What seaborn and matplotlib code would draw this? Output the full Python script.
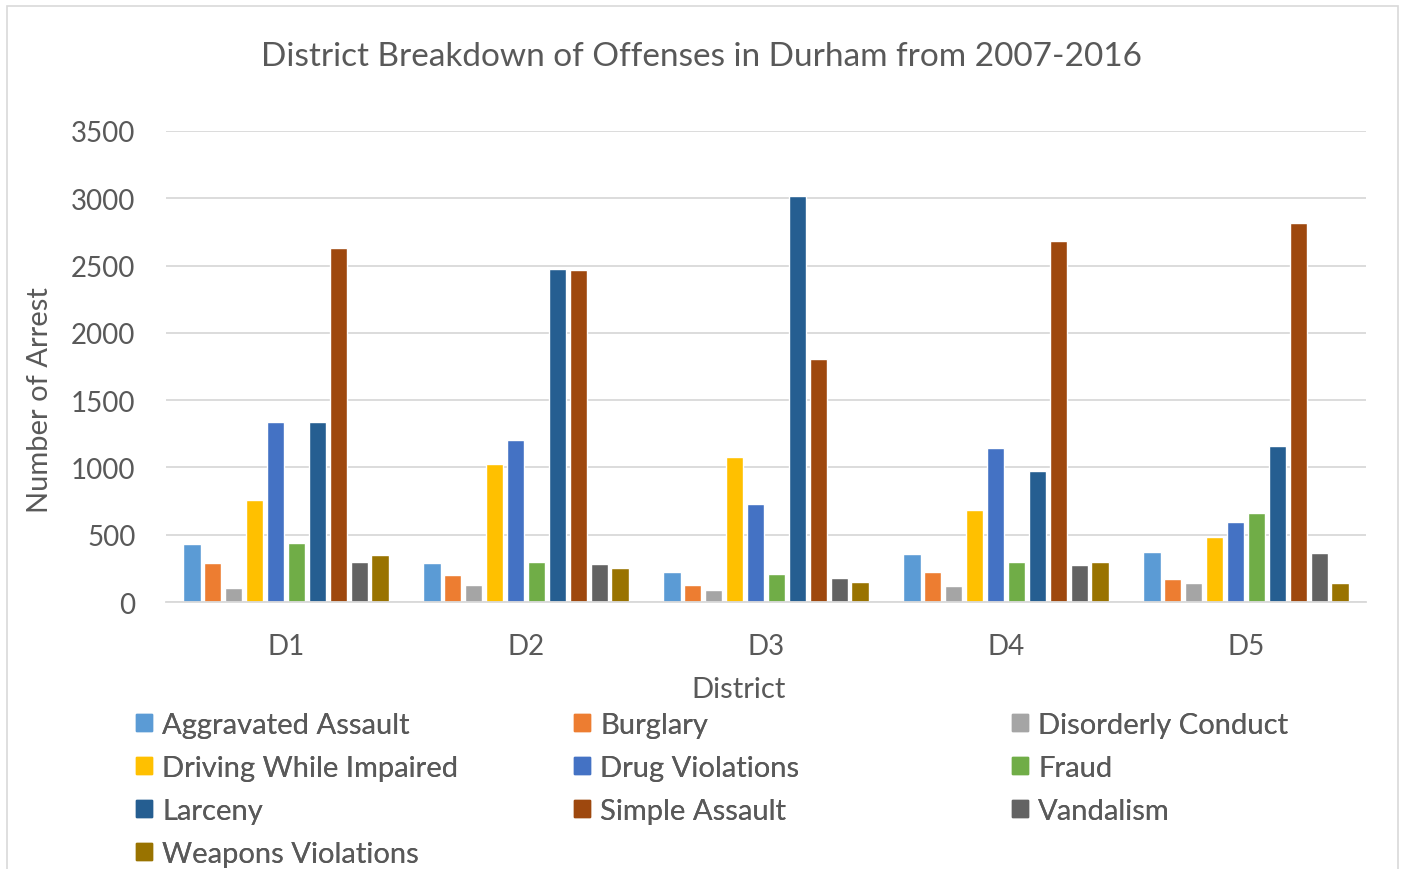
import matplotlib
matplotlib.use("Agg")
import matplotlib.pyplot as plt
import matplotlib.patches as mpatches
import pandas as pd
import seaborn as sns

districts = ["D1", "D2", "D3", "D4", "D5"]
offenses = [
    "Aggravated Assault", "Burglary", "Disorderly Conduct",
    "Driving While Impaired", "Drug Violations", "Fraud",
    "Larceny", "Simple Assault", "Vandalism", "Weapons Violations",
]
aggravated_assault = [430, 292, 226, 355, 368]
burglary = [288, 197, 127, 222, 172]
disorderly_conduct = [105, 127, 87, 122, 142]
driving_while_impaired = [755, 1025, 1076, 682, 485]
drug_violations = [1337, 1202, 730, 1142, 597]
fraud = [442, 300, 209, 300, 665]
larceny = [1335, 2475, 3015, 972, 1158]
simple_assault = [2630, 2465, 1808, 2685, 2815]
vandalism = [300, 280, 181, 277, 361]
weapons_violations = [347, 255, 147, 297, 139]

colors = ["#5B9BD5", "#ED7D31", "#A5A5A5", "#FFC000", "#4472C4",
          "#70AD47", "#255E91", "#9E480E", "#636363", "#997300"]

series = [aggravated_assault, burglary, disorderly_conduct, driving_while_impaired,
          drug_violations, fraud, larceny, simple_assault, vandalism, weapons_violations]
rows = []
for name, vals in zip(offenses, series):
    for d, v in zip(districts, vals):
        rows.append({"district": d, "offense": name, "count": v})
df = pd.DataFrame(rows)

sns.set_theme(style="white")
plt.rcParams["font.family"] = ["Lato", "DejaVu Sans"]
text_color = "#595959"

fig = plt.figure(figsize=(14.03, 8.7), dpi=100)
ax = fig.add_axes([166 / 1403, 1 - 603 / 870, 1200 / 1403, 471 / 870])

sns.barplot(data=df, x="district", y="count", hue="offense", hue_order=offenses,
            palette=colors, saturation=1, width=0.87, gap=0.18, ax=ax,
            errorbar=None, legend=False)

ax.set_ylim(0, 3500)
ax.set_yticks(range(0, 3501, 500))
ax.set_xlim(-0.5, 4.5)
ax.yaxis.grid(True, color="#D9D9D9", linewidth=1.3)
ax.set_axisbelow(True)
for s in ["top", "right", "left"]:
    ax.spines[s].set_visible(False)
ax.spines["bottom"].set_color("#D9D9D9")
ax.spines["bottom"].set_linewidth(1.3)
ax.tick_params(axis="both", length=0, labelsize=20, colors=text_color)
ax.tick_params(axis="y", pad=22)
ax.tick_params(axis="x", pad=22)
ax.set_xlabel("District", fontsize=21, color=text_color)
ax.set_ylabel("Number of Arrest", fontsize=21, color=text_color)
ax.xaxis.set_label_coords((739 - 166) / 1200, -(690 - 603) / 471)
ax.xaxis.label.set_va("center")
ax.yaxis.set_label_coords((40 - 166) / 1200, (603 - 400) / 471)
ax.yaxis.label.set_va("center")

fig.text(0.5, 1 - 57 / 870, "District Breakdown of Offenses in Durham from 2007-2016",
         ha="center", va="center", fontsize=24, color=text_color)

# legend: three columns laid out row by row
col_x = [136 / 1403, 574 / 1403, 1012 / 1403]
for c in range(3):
    idx = list(range(c, len(offenses), 3))
    handles = [mpatches.Patch(color=colors[i], label=offenses[i]) for i in idx]
    leg = fig.legend(handles=handles, loc="upper left",
                     bbox_to_anchor=(col_x[c], 1 - 713 / 870), frameon=False,
                     fontsize=21, labelcolor=text_color, handlelength=0.55,
                     handleheight=0.55, handletextpad=0.35, labelspacing=0.58,
                     borderpad=0, borderaxespad=0)
    fig.add_artist(leg)

border = mpatches.Rectangle((7 / 1403, -0.01), 1391 / 1403, 1 - 7 / 870 + 0.01,
                            transform=fig.transFigure, fill=False,
                            edgecolor="#D9D9D9", linewidth=1.2)
fig.add_artist(border)

fig.savefig("out.png", dpi=100)
